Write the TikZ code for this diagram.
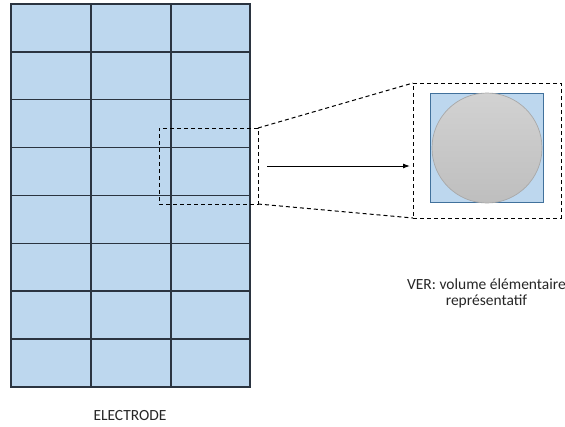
\documentclass[tikz,border=0pt]{standalone}
\usepackage{fontspec}
\setmainfont{Carlito}
\usetikzlibrary{arrows.meta}
\definecolor{cellblue}{HTML}{BDD7EE}
\definecolor{gridcol}{HTML}{2B3440}
\definecolor{sqborder}{HTML}{41719C}
\definecolor{circtop}{HTML}{D2D2D2}
\definecolor{circbot}{HTML}{BEBEBE}
\definecolor{circborder}{HTML}{A8A8A8}
\definecolor{txtcol}{HTML}{262626}
\tikzset{
  gridline/.style={draw=gridcol, line width=1.3pt},
  dashbox/.style={draw=black, line width=1pt, dash pattern=on 4pt off 3pt, inner sep=0pt, outer sep=0pt},
  dashlink/.style={draw=black, line width=1pt, dash pattern=on 4pt off 3pt},
  label/.style={font=\fontsize{15.5}{17}\selectfont, text=txtcol, inner sep=0pt},
}
\begin{document}
\begin{tikzpicture}[x=1pt,y=-1pt]
\useasboundingbox (0,0) rectangle (565,426);
% electrode grid
\node[gridline, fill=cellblue, minimum width=239pt, minimum height=383pt, inner sep=0pt, outer sep=0pt] (electrode) at (130.5,195.5) {};
\foreach \x in {91,171}
  \draw[gridline] (\x,4) -- (\x,387);
\foreach \y in {52,99.75,147.5,195.5,243.25,291,339}
  \draw[gridline] (11,\y) -- (250,\y);
% zoom source box
\node[dashbox, minimum width=99pt, minimum height=76pt] (zoomsrc) at (208.5,166) {};
% zoom target box
\node[dashbox, minimum width=148pt, minimum height=135pt] (zoombox) at (487,150.5) {};
\node[draw=sqborder, line width=0.9pt, fill=cellblue, minimum width=113pt, minimum height=109pt, inner sep=0pt] (ver) at (486.5,147.5) {};
\node[circle, draw=circborder, line width=0.7pt, top color=circtop, bottom color=circbot, minimum size=110pt, inner sep=0pt] (grain) at (487,148) {};
% connectors
\draw[dashlink] (zoomsrc.north east) -- (zoombox.north west);
\draw[dashlink] (zoomsrc.south east) -- (zoombox.south west);
\coordinate (arrstart) at (267,166);
\draw[line width=1pt, -{Latex[length=7pt,width=5pt]}, shorten >=3pt] (arrstart) -- (zoombox.west |- arrstart);
% labels
\node[label, anchor=base] (eltext) at (130,420) {ELECTRODE};
\node[label, anchor=base] (vertext1) at (486.5,289) {VER: volume élémentaire};
\node[label, anchor=base] (vertext2) at (486.5,305) {représentatif};
\end{tikzpicture}
\end{document}
